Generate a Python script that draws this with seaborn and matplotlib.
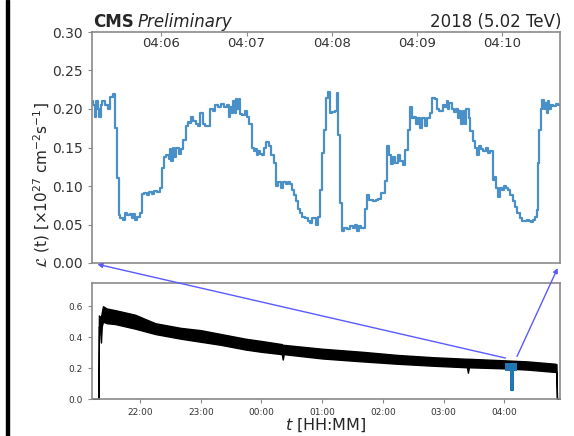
import matplotlib
matplotlib.use("Agg")
import matplotlib.pyplot as plt
import matplotlib.dates as mdates
from matplotlib.patches import ConnectionPatch, Rectangle
import pandas as pd
import seaborn as sns

sns.set_style("ticks")
plt.rcParams['font.family'] = ['DejaVu Sans']
plt.rcParams['mathtext.fontset'] = 'dejavusans'

# ---------------- data ----------------
# zoomed scan: seconds after 04:05:00 and luminosity (x1e27 cm^-2 s^-1)
zoom_seconds = [11, 12, 13, 14, 15, 16, 17, 18, 20, 22, 24, 25.5, 27, 28.3, 29.7, 31, 33, 34, 36, 37.5,
                39, 40, 41.5, 43, 44.5, 46, 48, 50, 51.5, 53, 55, 57, 58.6, 60.7, 62, 63.5, 65, 66, 67, 68,
                69, 70.5, 72, 73.5, 75.5, 77, 78.4, 80, 81, 82.5, 84, 86, 87.5, 89, 91, 93.9, 96, 98, 100, 102,
                104, 106, 107.5, 108.5, 109.5, 110.5, 111.5, 112.5, 113.5, 114.5, 115.5, 117, 119, 120.5, 122,
                123.5, 125, 126, 127, 128, 129.5, 131, 132.5, 134, 136, 137.5, 139, 141, 142.5, 144, 145.5,
                147.5, 149, 150.5, 152, 153.5, 155, 156, 157.5, 159, 161, 163, 164.5, 166, 167.5, 169, 170.5,
                172, 173.3, 174.5, 176, 177.5, 178.6, 180.5, 182.5, 183.5, 184.8, 186, 187.5, 189, 191, 193,
                195, 196.5, 198, 199.5, 201, 203.3, 204.8, 206.5, 209, 211, 213, 215, 217.5, 219, 220.5, 222,
                223.5, 225, 226.5, 228.5, 230, 231.6, 233.7, 235, 236.5, 238, 239.5, 241, 242.5, 244, 245.5,
                247, 249, 250.6, 253, 254.2, 256, 258.4, 260, 261, 262, 263, 264.5, 266, 267.5, 269, 270, 271,
                272.5, 274, 275, 276.5, 277.5, 279.6, 281, 282.5, 284, 285.5, 287, 288.5, 290, 291.6, 293.7,
                295, 296, 297.2, 298.5, 300, 301.5, 303, 304.5, 306, 307.8, 309.5, 311, 312.8, 314.5, 316,
                317.5, 319, 320.5, 322, 323.5, 324.8, 325.5, 326.3, 327.5, 328.3, 329.5, 330.5, 331.5, 332.5,
                333.5, 334.5, 336, 338, 339.5, 341]
zoom_lumi = [0.210, 0.205, 0.190, 0.210, 0.200, 0.190, 0.205, 0.210, 0.205, 0.200, 0.215, 0.220, 0.175, 0.110,
             0.062, 0.058, 0.056, 0.065, 0.062, 0.064, 0.058, 0.063, 0.056, 0.060, 0.065, 0.089, 0.091, 0.088,
             0.092, 0.090, 0.094, 0.092, 0.097, 0.123, 0.138, 0.140, 0.135, 0.148, 0.133, 0.150, 0.138, 0.150,
             0.142, 0.148, 0.160, 0.178, 0.183, 0.182, 0.190, 0.185, 0.180, 0.178, 0.195, 0.180, 0.178, 0.200,
             0.198, 0.205, 0.203, 0.207, 0.203, 0.205, 0.190, 0.203, 0.195, 0.210, 0.195, 0.213, 0.200, 0.213,
             0.193, 0.192, 0.197, 0.190, 0.180, 0.150, 0.145, 0.148, 0.140, 0.145, 0.142, 0.140, 0.150, 0.157,
             0.152, 0.140, 0.130, 0.100, 0.105, 0.098, 0.105, 0.102, 0.105, 0.102, 0.095, 0.088, 0.080, 0.070,
             0.065, 0.060, 0.058, 0.055, 0.052, 0.058, 0.058, 0.050, 0.060, 0.095, 0.143, 0.173, 0.214, 0.222,
             0.195, 0.196, 0.198, 0.221, 0.166, 0.078, 0.042, 0.045, 0.044, 0.048, 0.046, 0.050, 0.042, 0.048,
             0.045, 0.070, 0.088, 0.082, 0.080, 0.082, 0.083, 0.091, 0.106, 0.152, 0.140, 0.128, 0.138, 0.130,
             0.140, 0.132, 0.127, 0.147, 0.173, 0.203, 0.188, 0.190, 0.180, 0.188, 0.175, 0.188, 0.178, 0.188,
             0.195, 0.214, 0.213, 0.200, 0.198, 0.205, 0.203, 0.210, 0.200, 0.208, 0.200, 0.196, 0.200, 0.188,
             0.198, 0.180, 0.198, 0.180, 0.200, 0.188, 0.172, 0.158, 0.150, 0.140, 0.152, 0.148, 0.145, 0.150,
             0.143, 0.145, 0.108, 0.112, 0.098, 0.086, 0.098, 0.095, 0.100, 0.097, 0.095, 0.088, 0.080, 0.073,
             0.065, 0.058, 0.055, 0.054, 0.056, 0.055, 0.053, 0.056, 0.060, 0.069, 0.130, 0.173, 0.200, 0.212,
             0.200, 0.208, 0.195, 0.210, 0.200, 0.205, 0.204, 0.206, 0.205, 0.205]

# full fill: clock time and lower/upper edge of the fluctuating band
overview_times = ["21:12:30", "21:19:00", "21:19:20", "21:20:30", "21:21:20", "21:22:10", "21:23:20",
                  "21:27:00", "21:35:00", "21:45:00", "21:55:00", "22:15:00", "22:40:00", "23:00:00",
                  "23:20:00", "23:44:00", "00:00:00", "00:20:00", "00:21:00", "00:22:00", "01:00:00",
                  "01:40:00", "02:14:00", "02:50:00", "03:23:00", "03:24:00", "03:25:00", "04:00:00",
                  "04:23:00", "04:50:00", "04:51:30", "04:52:00", "04:55:00"]
overview_low = [0.0, 0.0, 0.47, 0.45, 0.365, 0.47, 0.50, 0.49, 0.485, 0.47, 0.455, 0.42, 0.39, 0.37,
                0.35, 0.32, 0.305, 0.29, 0.255, 0.29, 0.262, 0.243, 0.228, 0.215, 0.205, 0.17, 0.205, 0.198,
                0.19, 0.175, 0.175, 0.0, 0.0]
overview_high = [0.0, 0.0, 0.54, 0.53, 0.53, 0.56, 0.60, 0.585, 0.575, 0.56, 0.545, 0.49, 0.46, 0.445,
                 0.42, 0.39, 0.375, 0.355, 0.35, 0.35, 0.325, 0.305, 0.285, 0.27, 0.26, 0.26, 0.26, 0.25,
                 0.243, 0.228, 0.225, 0.0, 0.0]

# highlighted scan period in the full fill
highlight_times = ["04:01:00", "04:05:30", "04:09:40", "04:12:40"]
highlight_low = [0.178, 0.05, 0.178, 0.178]
highlight_high = [0.235, 0.235, 0.235, 0.235]

top_xlim = ["04:05:11", "04:10:41"]
bottom_xlim = ["21:12:30", "04:55:00"]


def to_dt(s):
    h = int(s[:2])
    day = "2018-11-18" if h >= 12 else "2018-11-19"
    return pd.Timestamp(f"{day} {s}")


W, H = 574, 436
fig = plt.figure(figsize=(W / 100, H / 100), dpi=100)
ax1 = fig.add_axes([92 / W, 1 - 263 / H, 468 / W, 231 / H])
ax2 = fig.add_axes([92 / W, 1 - 399 / H, 468 / W, 116 / H])

spine_col = '#8a8a8a'
tick_col = '#333333'

# ---- top panel ----
zoom_df = pd.DataFrame({
    "t": [pd.Timestamp("2018-11-19 04:05:00") + pd.Timedelta(seconds=s) for s in zoom_seconds],
    "lumi": zoom_lumi,
})
sns.lineplot(data=zoom_df, x="t", y="lumi", ax=ax1, drawstyle="steps-post",
             color="#4a90c8", linewidth=1.6)
ax1.set_xlim(to_dt(top_xlim[0]), to_dt(top_xlim[1]))
ax1.set_ylim(0, 0.30)
ax1.set_yticks([0, 0.05, 0.10, 0.15, 0.20, 0.25, 0.30])
ax1.yaxis.set_major_formatter(matplotlib.ticker.FormatStrFormatter('%.2f'))
ax1.xaxis.tick_top()
ax1.xaxis.set_major_locator(mdates.MinuteLocator())
ax1.xaxis.set_major_formatter(mdates.DateFormatter('%H:%M'))
ax1.tick_params(axis='x', direction='in', pad=-13, length=3, labelsize=9.5,
                colors=tick_col, color=spine_col)
ax1.tick_params(axis='y', direction='out', length=3, labelsize=10, colors=tick_col, color=spine_col)
ax1.set_xlabel('')
ax1.set_ylabel('')

# ---- bottom panel ----
ov_t = [to_dt(s) for s in overview_times]
ax2.fill_between(ov_t, overview_low, overview_high, facecolor='black', edgecolor='black', linewidth=1.0)
hl_t = [to_dt(s) for s in highlight_times]
ax2.fill_between(hl_t, highlight_low, highlight_high, step='post', color='#1f77b4', linewidth=0)
ax2.set_xlim(to_dt(bottom_xlim[0]), to_dt(bottom_xlim[1]))
ax2.set_ylim(0, 0.75)
ax2.set_yticks([0, 0.2, 0.4, 0.6])
ax2.yaxis.set_major_formatter(matplotlib.ticker.FormatStrFormatter('%.1f'))
ax2.xaxis.set_major_locator(mdates.HourLocator())
ax2.xaxis.set_major_formatter(mdates.DateFormatter('%H:%M'))
ax2.tick_params(axis='both', direction='out', length=3, labelsize=6.5, colors=tick_col, color=spine_col)
ax2.set_xlabel('')
ax2.set_ylabel('')

for ax in (ax1, ax2):
    for sp in ax.spines.values():
        sp.set_visible(True)
        sp.set_color(spine_col)
        sp.set_linewidth(1.2)
    ax.set_facecolor('white')

# ---- texts ----
fig.text(93 / W, 1 - 27 / H, 'CMS', fontweight='bold', fontsize=12, va='baseline', ha='left')
fig.text(138 / W, 1 - 27 / H, 'Preliminary', style='italic', fontsize=12, va='baseline', ha='left')
fig.text(562 / W, 1 - 27 / H, '2018 (5.02 TeV)', fontsize=12, va='baseline', ha='right')
fig.text(42 / W, 1 - 185 / H, r'$\mathcal{L}$ (t) [$\times10^{27}$ cm$^{-2}$s$^{-1}$]',
         rotation=90, fontsize=11, ha='center', va='center')
fig.text(326 / W, 1 - 425 / H, r'$t$ [HH:MM]', fontsize=11.5, ha='center', va='center')

# ---- connecting arrows ----
arrow_col = '#5a5aff'
for tstr, yv, corner in [("04:01:00", 0.265, (0, 0)), ("04:12:30", 0.275, (1, 0))]:
    con = ConnectionPatch(xyA=(mdates.date2num(to_dt(tstr)), yv), coordsA=ax2.transData,
                          xyB=corner, coordsB=ax1.transAxes, arrowstyle='-|>',
                          color=arrow_col, lw=1.0, mutation_scale=7, shrinkA=0, shrinkB=4)
    fig.add_artist(con)

# left black bar (page edge)
fig.add_artist(Rectangle((6 / W, 0), 3 / W, 1, transform=fig.transFigure, color='black'))

fig.savefig('out.png', dpi=100)
